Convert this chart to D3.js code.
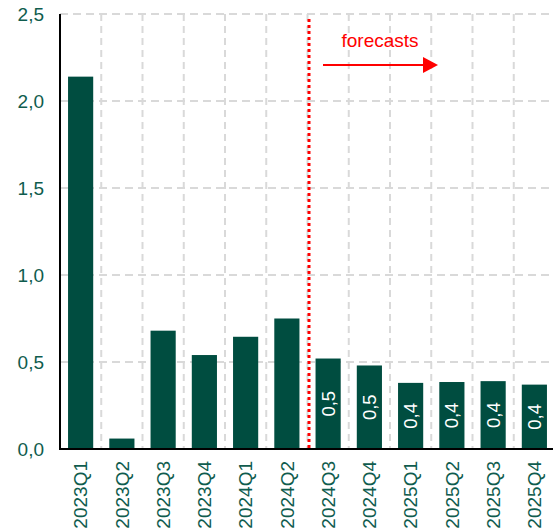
<!DOCTYPE html>
<html>
<head>
<meta charset="utf-8">
<script src="https://cdn.jsdelivr.net/npm/d3@7.9.0/dist/d3.min.js"></script>
<style>
  body { margin: 0; background: #fff; }
  text { font-family: "Liberation Sans", Arial, sans-serif; }
</style>
</head>
<body>
<svg id="chart" width="553" height="529"></svg>
<script>
// quarters and values
const quarters = ['2023Q1', '2023Q2', '2023Q3', '2023Q4', '2024Q1', '2024Q2',
                  '2024Q3', '2024Q4', '2025Q1', '2025Q2', '2025Q3', '2025Q4'];
const values = [2.14, 0.06, 0.68, 0.54, 0.645, 0.75,
                0.52, 0.48, 0.38, 0.385, 0.39, 0.37];
const yTicks = [0, 0.5, 1.0, 1.5, 2.0, 2.5];
const forecastStart = '2024Q3';

const barColor = '#004d40';
const textColor = '#0f5c4e';
const gridColor = '#d9d9d9';

const svg = d3.select('#chart');
const mLeft = 60, mRight = 555, mTop = 14, mBottom = 449;

let x = d3.scaleBand().domain(quarters).range([mLeft, mRight]).paddingInner(0.39).paddingOuter(0.195);
let xb = d3.scaleBand().domain(quarters).range([mLeft, mRight]); // full bands for grid
let y = d3.scaleLinear().domain([0, 2.5]).range([mBottom, mTop]);

const comma = v => d3.format('.1f')(v).replace('.', ',');

// horizontal grid
svg.append('g')
  .selectAll('line')
  .data(yTicks.filter(t => t > 0))
  .join('line')
  .attr('x1', mLeft).attr('x2', 553)
  .attr('y1', d => y(d)).attr('y2', d => y(d))
  .attr('stroke', gridColor).attr('stroke-width', 2)
  .attr('stroke-dasharray', '8,5');

// vertical grid at band boundaries
svg.append('g')
  .selectAll('line')
  .data(quarters.slice(1))
  .join('line')
  .attr('x1', d => xb(d)).attr('x2', d => xb(d))
  .attr('y1', mTop).attr('y2', mBottom)
  .attr('stroke', gridColor).attr('stroke-width', 2)
  .attr('stroke-dasharray', '7,5');

// bars
svg.append('g')
  .selectAll('rect')
  .data(quarters)
  .join('rect')
  .attr('x', d => x(d))
  .attr('width', x.bandwidth())
  .attr('y', (d, i) => y(values[i]))
  .attr('height', (d, i) => y(0) - y(values[i]))
  .attr('fill', barColor);

// labels inside forecast bars
const fi = quarters.indexOf(forecastStart);
svg.append('g')
  .selectAll('text')
  .data(quarters.slice(fi))
  .join('text')
  .attr('transform', (d, i) => {
    let v = values[fi + i];
    let cx = x(d) + x.bandwidth() / 2;
    let cy = (y(v) + y(0)) / 2;
    return `translate(${cx},${cy}) rotate(-90)`;
  })
  .attr('text-anchor', 'middle')
  .attr('dy', '0.35em')
  .attr('fill', '#fff')
  .attr('font-size', 18.5)
  .text((d, i) => comma(values[fi + i]));

// axes lines
svg.append('line')
  .attr('x1', mLeft).attr('x2', mLeft).attr('y1', mTop).attr('y2', mBottom + 1)
  .attr('stroke', '#000').attr('stroke-width', 2);
svg.append('line')
  .attr('x1', mLeft - 1).attr('x2', 553).attr('y1', mBottom).attr('y2', mBottom)
  .attr('stroke', '#000').attr('stroke-width', 2);

// y tick labels
svg.append('g')
  .selectAll('text')
  .data(yTicks)
  .join('text')
  .attr('x', 44)
  .attr('y', d => y(d))
  .attr('dy', '0.35em')
  .attr('text-anchor', 'end')
  .attr('fill', textColor)
  .attr('font-size', 19)
  .text(d => comma(d));

// x tick labels, rotated
svg.append('g')
  .selectAll('text')
  .data(quarters)
  .join('text')
  .attr('transform', d => `translate(${x(d) + x.bandwidth() / 2},${mBottom + 12}) rotate(-90)`)
  .attr('text-anchor', 'end')
  .attr('dy', '0.35em')
  .attr('fill', textColor)
  .attr('font-size', 19)
  .text(d => d);

// forecast marker
const fx = xb(forecastStart) + 1.5;
svg.append('line')
  .attr('x1', fx).attr('x2', fx).attr('y1', mTop + 5).attr('y2', mBottom - 1)
  .attr('stroke', '#ff0000').attr('stroke-width', 3)
  .attr('stroke-dasharray', '3,3');

svg.append('text')
  .attr('x', 380).attr('y', 47)
  .attr('text-anchor', 'middle')
  .attr('fill', '#ff0000')
  .attr('font-size', 19)
  .text('forecasts');

svg.append('line')
  .attr('x1', 323).attr('x2', 425).attr('y1', 65).attr('y2', 65)
  .attr('stroke', '#ff0000').attr('stroke-width', 2);
svg.append('path')
  .attr('d', 'M423,57 L438,65 L423,73 Z')
  .attr('fill', '#ff0000');
</script>
</body>
</html>
